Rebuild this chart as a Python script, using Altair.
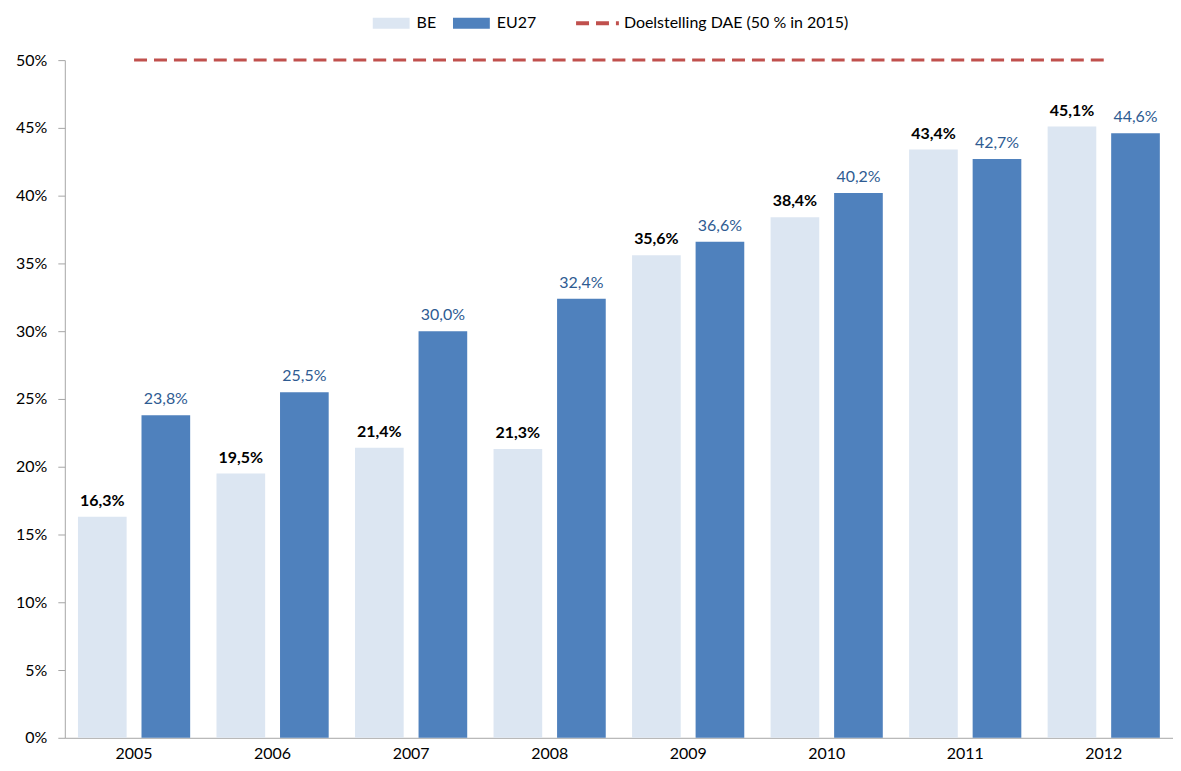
import altair as alt
import pandas as pd

years = ["2005", "2006", "2007", "2008", "2009", "2010", "2011", "2012"]
be_values = [16.3, 19.5, 21.4, 21.3, 35.6, 38.4, 43.4, 45.1]
eu_values = [23.8, 25.5, 30.0, 32.4, 36.6, 40.2, 42.7, 44.6]
target_values = [50, 50, 50, 50, 50, 50, 50, 50]
series_names = ["BE", "EU27"]
target_name = "Doelstelling DAE (50 % in 2015)"

FONT = "Lato"
FS = 16

rows = []
for y, b, e in zip(years, be_values, eu_values):
    rows.append({"year": y, "series": "BE", "value": b / 100,
                 "label": f"{b:.1f}".replace(".", ",") + "%"})
    rows.append({"year": y, "series": "EU27", "value": e / 100,
                 "label": f"{e:.1f}".replace(".", ",") + "%"})
df = pd.DataFrame(rows)
tdf = pd.DataFrame({"year": years, "value": [v / 100 for v in target_values],
                    "name": [target_name] * len(years)})

x_enc = alt.X("year:N", title=None, sort=years,
              scale=alt.Scale(paddingInner=0.19, paddingOuter=0.095),
              axis=alt.Axis(labelAngle=0, labelFontSize=FS, labelColor="#000000",
                            labelFont=FONT, domainColor="#A6A6A6", ticks=False,
                            labelPadding=8))
y_enc = alt.Y("value:Q", title=None,
              scale=alt.Scale(domain=[0, 0.5], nice=False),
              axis=alt.Axis(format=".0%", values=[i * 0.05 for i in range(11)],
                            labelFontSize=FS, labelColor="#000000", labelFont=FONT,
                            domainColor="#A6A6A6", tickColor="#A6A6A6", tickSize=7,
                            labelPadding=11, grid=False))
xoff = alt.XOffset("series:N", scale=alt.Scale(domain=series_names, paddingInner=0.234,
                                               paddingOuter=0))

bars = alt.Chart(df).mark_bar().encode(
    x=x_enc, y=y_enc, xOffset=xoff,
    color=alt.Color("series:N",
                    scale=alt.Scale(domain=series_names, range=["#DCE6F2", "#4F81BD"]),
                    legend=alt.Legend(title=None, orient="none", direction="horizontal",
                                      legendX=319.5, legendY=-45, padding=0,
                                      symbolType="M-3.08,-0.92H3.08V0.92H-3.08Z",
                                      symbolSize=144, symbolStrokeWidth=0,
                                      labelFontSize=FS, labelFont=FONT,
                                      labelColor="#000000", labelOffset=17.5,
                                      columnPadding=15.5)),
)

text_be = alt.Chart(df).transform_filter(alt.datum.series == "BE").mark_text(
    baseline="bottom", dy=-8, fontSize=FS, fontWeight="bold", font=FONT, color="#000000"
).encode(x=x_enc, y=y_enc, xOffset=xoff, text="label:N")

text_eu = alt.Chart(df).transform_filter(alt.datum.series == "EU27").mark_text(
    baseline="bottom", dy=-8, fontSize=FS, font=FONT, color="#2E5B92"
).encode(x=x_enc, y=y_enc, xOffset=xoff, text="label:N")

line = alt.Chart(tdf).mark_line(color="#C0504D", strokeWidth=3, strokeCap="butt").encode(
    x=alt.X("year:N", sort=years, bandPosition=0.5),
    y="value:Q",
    strokeDash=alt.StrokeDash("name:N", scale=alt.Scale(domain=[target_name], range=[[13, 7]]),
                              legend=alt.Legend(title=None, orient="none", legendX=526.5,
                                                legendY=-45, padding=0,
                                                symbolType="M-3.58,0H3.58",
                                                symbolSize=144, symbolStrokeWidth=4,
                                                symbolStrokeColor="#C0504D",
                                                symbolFillColor="transparent",
                                                labelFontSize=FS, labelFont=FONT,
                                                labelColor="#000000", labelOffset=18.5,
                                                labelLimit=400)),
)

chart = alt.layer(bars, text_be, text_eu, line).properties(
    width=1112, height=680,
    padding={"left": 7, "top": 6, "right": 0, "bottom": 0},
).configure_view(stroke=None).configure_axis(grid=False)

chart.save("out.html", embed_options={"renderer": "svg", "actions": False})
